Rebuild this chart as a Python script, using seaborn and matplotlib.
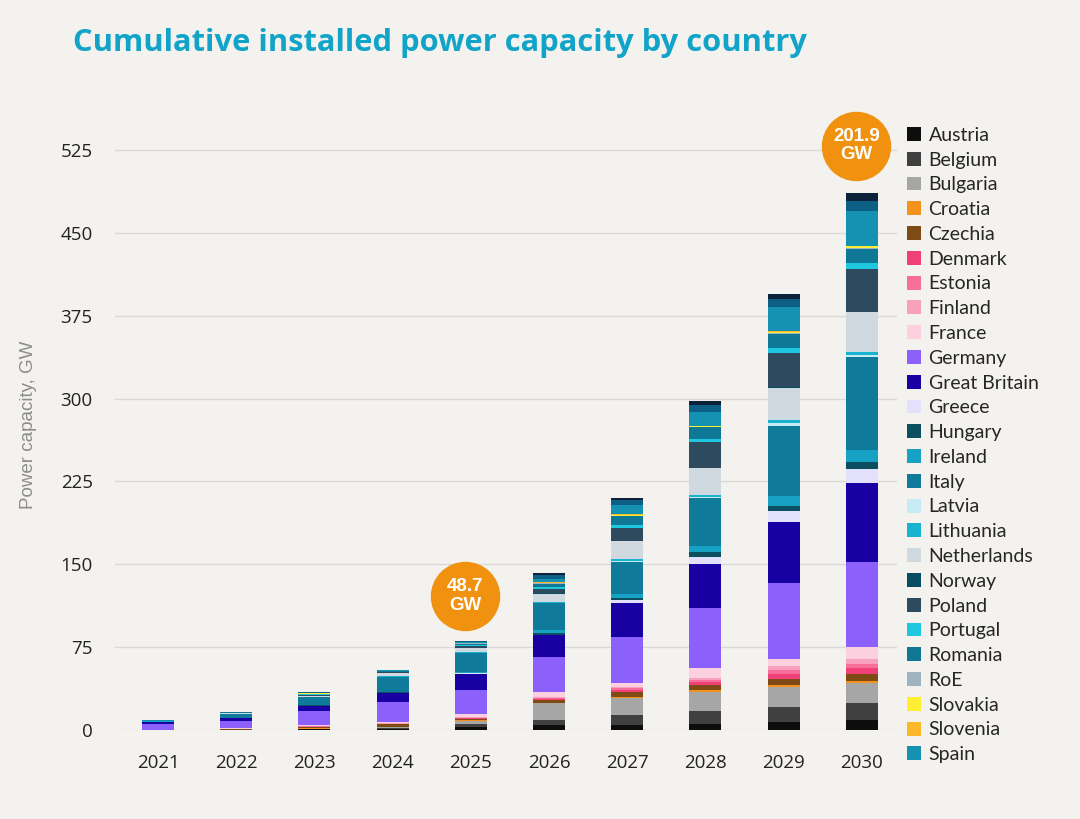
import numpy as np
import pandas as pd
import matplotlib
matplotlib.use("Agg")
import matplotlib.pyplot as plt
from matplotlib.patches import Patch
import seaborn as sns

# ---------------- data ----------------
years = ["2021", "2022", "2023", "2024", "2025", "2026", "2027", "2028", "2029", "2030"]

austria     = [0.0, 0.1, 0.5, 1.2, 2.5, 4.5, 4.5, 5.4, 7.0, 8.8]
belgium     = [0.0, 0.2, 0.5, 0.8, 3.0, 4.5, 9.1, 12.1, 14.0, 15.5]
bulgaria    = [0.0, 0.1, 0.3, 0.4, 3.0, 15.0, 15.6, 17.2, 17.6, 18.5]
croatia     = [0.0, 0.0, 0.1, 0.2, 0.3, 0.5, 0.9, 1.6, 2.0, 1.7]
czechia     = [0.0, 0.4, 1.5, 2.4, 1.5, 2.5, 4.5, 4.5, 5.4, 6.5]
denmark     = [0.0, 0.1, 0.2, 0.4, 0.7, 1.5, 2.0, 3.0, 5.0, 4.8]
estonia     = [0.0, 0.0, 0.1, 0.2, 0.2, 0.7, 1.0, 1.5, 3.5, 4.2]
finland     = [0.0, 0.2, 0.3, 0.4, 0.5, 0.8, 1.0, 1.5, 3.5, 4.0]
france      = [0.2, 0.5, 1.0, 1.5, 2.5, 4.6, 4.2, 9.1, 6.5, 11.3]
germany     = [5.2, 6.3, 12.4, 17.5, 22.4, 31.7, 41.5, 54.4, 68.5, 77.2]
great_brit  = [2.2, 3.0, 5.1, 8.5, 14.5, 19.5, 30.7, 40.2, 55.2, 71.1]
greece      = [0.0, 0.0, 0.1, 0.2, 0.3, 0.5, 2.5, 6.0, 10.4, 12.9]
hungary     = [0.0, 0.1, 0.2, 0.3, 0.5, 1.7, 2.4, 4.2, 4.2, 5.9]
ireland     = [0.1, 0.2, 0.3, 0.5, 0.8, 2.4, 3.6, 5.5, 8.7, 11.3]
italy       = [0.8, 3.5, 7.0, 13.5, 16.9, 24.1, 28.6, 43.8, 64.0, 83.7]
latvia      = [0.0, 0.0, 0.1, 0.2, 0.3, 0.6, 1.0, 1.0, 2.0, 2.3]
lithuania   = [0.0, 0.2, 0.5, 0.5, 0.5, 0.9, 2.0, 2.0, 3.2, 2.6]
netherlands = [0.0, 0.2, 0.6, 2.5, 3.6, 7.5, 15.9, 24.2, 29.2, 35.7]
norway      = [0.0, 0.0, 0.1, 0.1, 0.2, 0.2, 0.3, 0.3, 0.3, 0.3]
poland      = [0.0, 0.5, 1.2, 1.0, 2.0, 4.3, 11.8, 23.5, 31.1, 39.3]
portugal    = [0.0, 0.1, 0.3, 0.3, 0.5, 1.0, 2.1, 2.4, 4.9, 5.4]
romania     = [0.0, 0.3, 0.5, 0.5, 1.5, 3.5, 8.2, 10.6, 12.3, 12.4]
roe         = [0.0, 0.0, 0.1, 0.1, 0.2, 0.3, 0.5, 0.4, 0.5, 0.5]
slovakia    = [0.0, 0.0, 0.1, 0.2, 0.3, 0.7, 1.0, 0.8, 1.5, 2.0]
slovenia    = [0.0, 0.0, 0.1, 0.1, 0.1, 0.2, 0.3, 0.3, 0.3, 0.4]
spain       = [0.2, 0.3, 0.5, 0.4, 1.0, 3.0, 8.1, 12.1, 21.7, 31.7]
sweden      = [0.2, 0.2, 0.3, 0.3, 0.7, 3.3, 4.5, 7.0, 7.5, 9.0]
switzerland = [0.1, 0.1, 0.2, 0.2, 0.5, 2.2, 2.2, 3.0, 4.9, 7.4]

countries = ["Austria", "Belgium", "Bulgaria", "Croatia", "Czechia", "Denmark",
             "Estonia", "Finland", "France", "Germany", "Great Britain", "Greece",
             "Hungary", "Ireland", "Italy", "Latvia", "Lithuania", "Netherlands",
             "Norway", "Poland", "Portugal", "Romania", "RoE", "Slovakia",
             "Slovenia", "Spain", "Sweden", "Switzerland"]
legend_countries = countries[:26]

series = [austria, belgium, bulgaria, croatia, czechia, denmark, estonia, finland,
          france, germany, great_brit, greece, hungary, ireland, italy, latvia,
          lithuania, netherlands, norway, poland, portugal, romania, roe, slovakia,
          slovenia, spain, sweden, switzerland]

colors = ["#0d0d0d", "#404040", "#a6a6a6", "#f5921e", "#7f4b14", "#f0407a",
          "#f76e9b", "#f7a1bd", "#fcd0de", "#8b60fb", "#1800a3", "#e2e0fa",
          "#0b4f60", "#17a2c4", "#0f7a99", "#c5ecf4", "#19b3d2", "#d0d9e0",
          "#064f63", "#2e4a5e", "#1ec8e0", "#0e7896", "#9fb2c0", "#ffee33",
          "#fbb829", "#1592b2", "#0d5f86", "#0b223a"]

badge_years = ["2025", "2030"]
badge_labels = ["48.7\nGW", "201.9\nGW"]
badge_y = [121.3, 529.0]
badge_dx = [-0.07, -0.07]

# ---------------- style ----------------
BG = "#f4f2ee"
sns.set_theme(style="white")
plt.rcParams["font.family"] = ["Open Sans", "DejaVu Sans"]

fig = plt.figure(figsize=(10.8, 8.19), dpi=100, facecolor=BG)
ax = fig.add_axes([115 / 1080, 1 - 730 / 819, (897 - 115) / 1080, (730 - 111.3) / 819])
ax.set_facecolor(BG)

# stacked bars via overplotted cumulative totals
vals = np.array(series)
cum = np.cumsum(vals, axis=0)
for i in range(len(countries) - 1, -1, -1):
    df = pd.DataFrame({"year": years, "top": cum[i]})
    sns.barplot(data=df, x="year", y="top", order=years, color=colors[i],
                saturation=1, width=0.41, errorbar=None, linewidth=0, ax=ax,
                zorder=3)

ax.set_xlim(-0.55, 9.45)
ax.set_ylim(0, 560)
ax.set_yticks([0, 75, 150, 225, 300, 375, 450, 525])
ax.grid(axis="y", color="#d9d9d9", linewidth=1)
ax.grid(axis="x", visible=False)
ax.set_axisbelow(True)
for s in ax.spines.values():
    s.set_visible(False)
ax.tick_params(axis="both", length=0, labelsize=13.5, colors="#222222")
ax.tick_params(axis="y", pad=16)
ax.tick_params(axis="x", pad=17)
ax.set_xlabel("")
ax.set_ylabel("Power capacity, GW", fontsize=13.5, color="#8c8c8c",
              family=["Liberation Sans", "DejaVu Sans"])
ax.yaxis.set_label_coords((37 - 115) / 782, (730 - 425) / (730 - 111.3))

# badges
bx = [years.index(y) + d for y, d in zip(badge_years, badge_dx)]
ax.scatter(bx, badge_y, s=2500, color="#f0920f", zorder=6, clip_on=False, linewidths=0)
for x, y, t in zip(bx, badge_y, badge_labels):
    ax.text(x, y, t, ha="center", va="center", color="white", fontsize=13.5,
            fontweight="bold", family=["Liberation Sans", "DejaVu Sans"],
            linespacing=1.1, zorder=7)

# legend
handles = [Patch(facecolor=colors[i], edgecolor="none", label=countries[i])
           for i in range(len(legend_countries))]
fig.legend(handles=handles, loc="upper left", bbox_to_anchor=(899 / 1080, 1 - 119 / 819),
           frameon=False, handlelength=0.72, handleheight=0.72,
           handletextpad=0.4, labelspacing=0.40, borderaxespad=0,
           prop={"family": ["Lato", "DejaVu Sans"], "size": 14})

# title
fig.text(73 / 1080, 1 - 43 / 819, "Cumulative installed power capacity by country",
         color="#12a4c8", fontsize=22.2, fontweight="bold", ha="left", va="center",
         family=["Open Sans", "DejaVu Sans"])

fig.savefig("out.png", dpi=100, facecolor=BG)
